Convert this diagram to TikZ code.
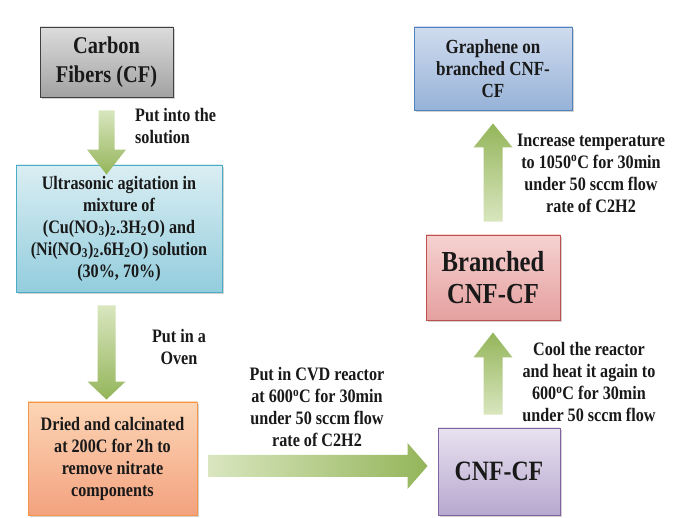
\documentclass[tikz,border=0pt]{standalone}
\usepackage{fontspec}
\setmainfont{Liberation Serif}[FakeStretch=0.85]
\usetikzlibrary{positioning,calc,shadows}

\definecolor{arrlight}{HTML}{D9E6BF}
\definecolor{arrdark}{HTML}{94B55A}
\definecolor{cfline}{HTML}{404040}
\definecolor{cftop}{HTML}{DCDCDC}
\definecolor{cfbot}{HTML}{A2A2A2}
\definecolor{mixline}{HTML}{4BACC6}
\definecolor{mixtop}{HTML}{DAEEF3}
\definecolor{mixbot}{HTML}{93CDDD}
\definecolor{dryline}{HTML}{F79646}
\definecolor{drytop}{HTML}{FCD5B5}
\definecolor{drybot}{HTML}{F3A27F}
\definecolor{cnfline}{HTML}{8064A2}
\definecolor{cnftop}{HTML}{E8E2F0}
\definecolor{cnfbot}{HTML}{B7A8CF}
\definecolor{brline}{HTML}{C0504D}
\definecolor{brtop}{HTML}{F5D2D1}
\definecolor{brbot}{HTML}{E5A09F}
\definecolor{grline}{HTML}{4F81BD}
\definecolor{grtop}{HTML}{D0DCEE}
\definecolor{grbot}{HTML}{96B2D8}

\begin{document}
\begin{tikzpicture}[x=1pt,y=1pt]
    \tikzstyle{every node}=[align=center,inner sep=0,text=black!90,font=\bfseries\fontsize{19}{22}\selectfont]
    \tikzstyle{stage}=[rectangle,draw,line width=0.9,drop shadow={shadow xshift=1.5pt,shadow yshift=-2pt,opacity=0.35}]
    \tikzstyle{stage0}=[stage,draw=cfline,top color=cftop,bottom color=cfbot]
    \tikzstyle{stage1}=[stage,draw=mixline,top color=mixtop,bottom color=mixbot]
    \tikzstyle{stage2}=[stage,draw=dryline,top color=drytop,bottom color=drybot]
    \tikzstyle{stage3}=[stage,draw=cnfline,top color=cnftop,bottom color=cnfbot]
    \tikzstyle{stage4}=[stage,draw=brline,top color=brtop,bottom color=brbot]
    \tikzstyle{stage5}=[stage,draw=grline,top color=grtop,bottom color=grbot]
    \tikzstyle{note}=[draw=none,fill=none]
    \tikzset{fat/.style n args={3}{to path={
        ($(\tikztostart)!#1!90:(\tikztotarget)$)
        -- ($(\tikztotarget)!#3!(\tikztostart)!#1!-90:(\tikztostart)$)
        -- ($(\tikztotarget)!#3!(\tikztostart)!#2!-90:(\tikztostart)$)
        -- (\tikztotarget)
        -- ($(\tikztotarget)!#3!(\tikztostart)!#2!90:(\tikztostart)$)
        -- ($(\tikztotarget)!#3!(\tikztostart)!#1!90:(\tikztostart)$)
        -- ($(\tikztostart)!#1!-90:(\tikztotarget)$) -- cycle}}}

    \useasboundingbox[fill=white] (0,0) rectangle (673,-518);

    % boxes
    \node[stage0,minimum width=133,minimum height=70,font=\bfseries\fontsize{24}{29}\selectfont] (cf) at (106.5,-62)
        {Carbon\\Fibers (CF)};
    \node[stage1,minimum width=206,minimum height=127] (mix) at (119,-228.5)
        {Ultrasonic agitation in\\mixture of\\(Cu(NO\textsubscript{3})\textsubscript{2}.3H\textsubscript{2}O) and\\(Ni(NO\textsubscript{3})\textsubscript{2}.6H\textsubscript{2}O) solution\\(30\%, 70\%)};
    \node[stage2,minimum width=169,minimum height=113] (dry) at (112.5,-458.5)
        {Dried and calcinated\\at 200C for 2h to\\remove nitrate\\components};
    \node[stage3,minimum width=122,minimum height=87,font=\bfseries\fontsize{28}{32}\selectfont] (cnf) at (499,-471.5)
        {CNF-CF};
    \node[stage4,minimum width=134,minimum height=85,font=\bfseries\fontsize{29}{32}\selectfont] (branch) at (493,-277.5)
        {Branched\\CNF-CF};
    \node[stage5,minimum width=158,minimum height=83,font=\bfseries\fontsize{20}{22}\selectfont] (graph) at (493,-68.5)
        {Graphene on\\branched CNF-\\CF};

    % arrow ends
    \coordinate (t1) at ($(cf.south)+(0,-13)$);
    \coordinate (h1) at ($(cf.south |- mix.north)+(0,-10)$);
    \coordinate (t2) at ($(cf.south |- mix.south)+(0,-13)$);
    \coordinate (h2) at ($(cf.south |- dry.north)+(0,2)$);
    \coordinate (mid) at ($(dry.east)!0.5!(cnf.west)$);
    \coordinate (t3) at ($(dry.east |- mid)+(11,-1)$);
    \coordinate (h3) at ($(cnf.west |- mid)+(-10,-1)$);
    \coordinate (t4) at ($(branch.south |- cnf.north)+(0,13)$);
    \coordinate (h4) at ($(branch.south)+(0,-12)$);
    \coordinate (t5) at ($(branch.north)+(0,13)$);
    \coordinate (h5) at ($(branch.north |- graph.south)+(0,-13)$);

    \shade[fat={8pt}{19.5pt}{25pt},top color=arrlight,bottom color=arrdark] (t1) to (h1);
    \shade[fat={9pt}{19pt}{18pt},top color=arrlight,bottom color=arrdark] (t2) to (h2);
    \shade[fat={11pt}{23pt}{20pt},left color=arrlight,right color=arrdark] (t3) to (h3);
    \shade[fat={9.5pt}{19.5pt}{25pt},bottom color=arrlight,top color=arrdark] (t4) to (h4);
    \shade[fat={9.5pt}{19.5pt}{24pt},bottom color=arrlight,top color=arrdark] (t5) to (h5);

    % step labels
    \node[note,anchor=west,align=left] (put) at (135,-126) {Put into the\\solution};
    \node[note] (oven) at (179,-347) {Put in a\\Oven};
    \node[note] (cvd) at (317,-407.5) {Put in CVD reactor\\at 600\textsuperscript{o}C for 30min\\under 50 sccm flow\\rate of C2H2};
    \node[note] (cool) at (589,-382) {Cool the reactor\\and heat it again to\\600\textsuperscript{o}C for 30min\\under 50 sccm flow};
    \node[note] (heat) at (591,-173) {Increase temperature\\to 1050\textsuperscript{o}C for 30min\\under 50 sccm flow\\rate of C2H2};
\end{tikzpicture}
\end{document}
